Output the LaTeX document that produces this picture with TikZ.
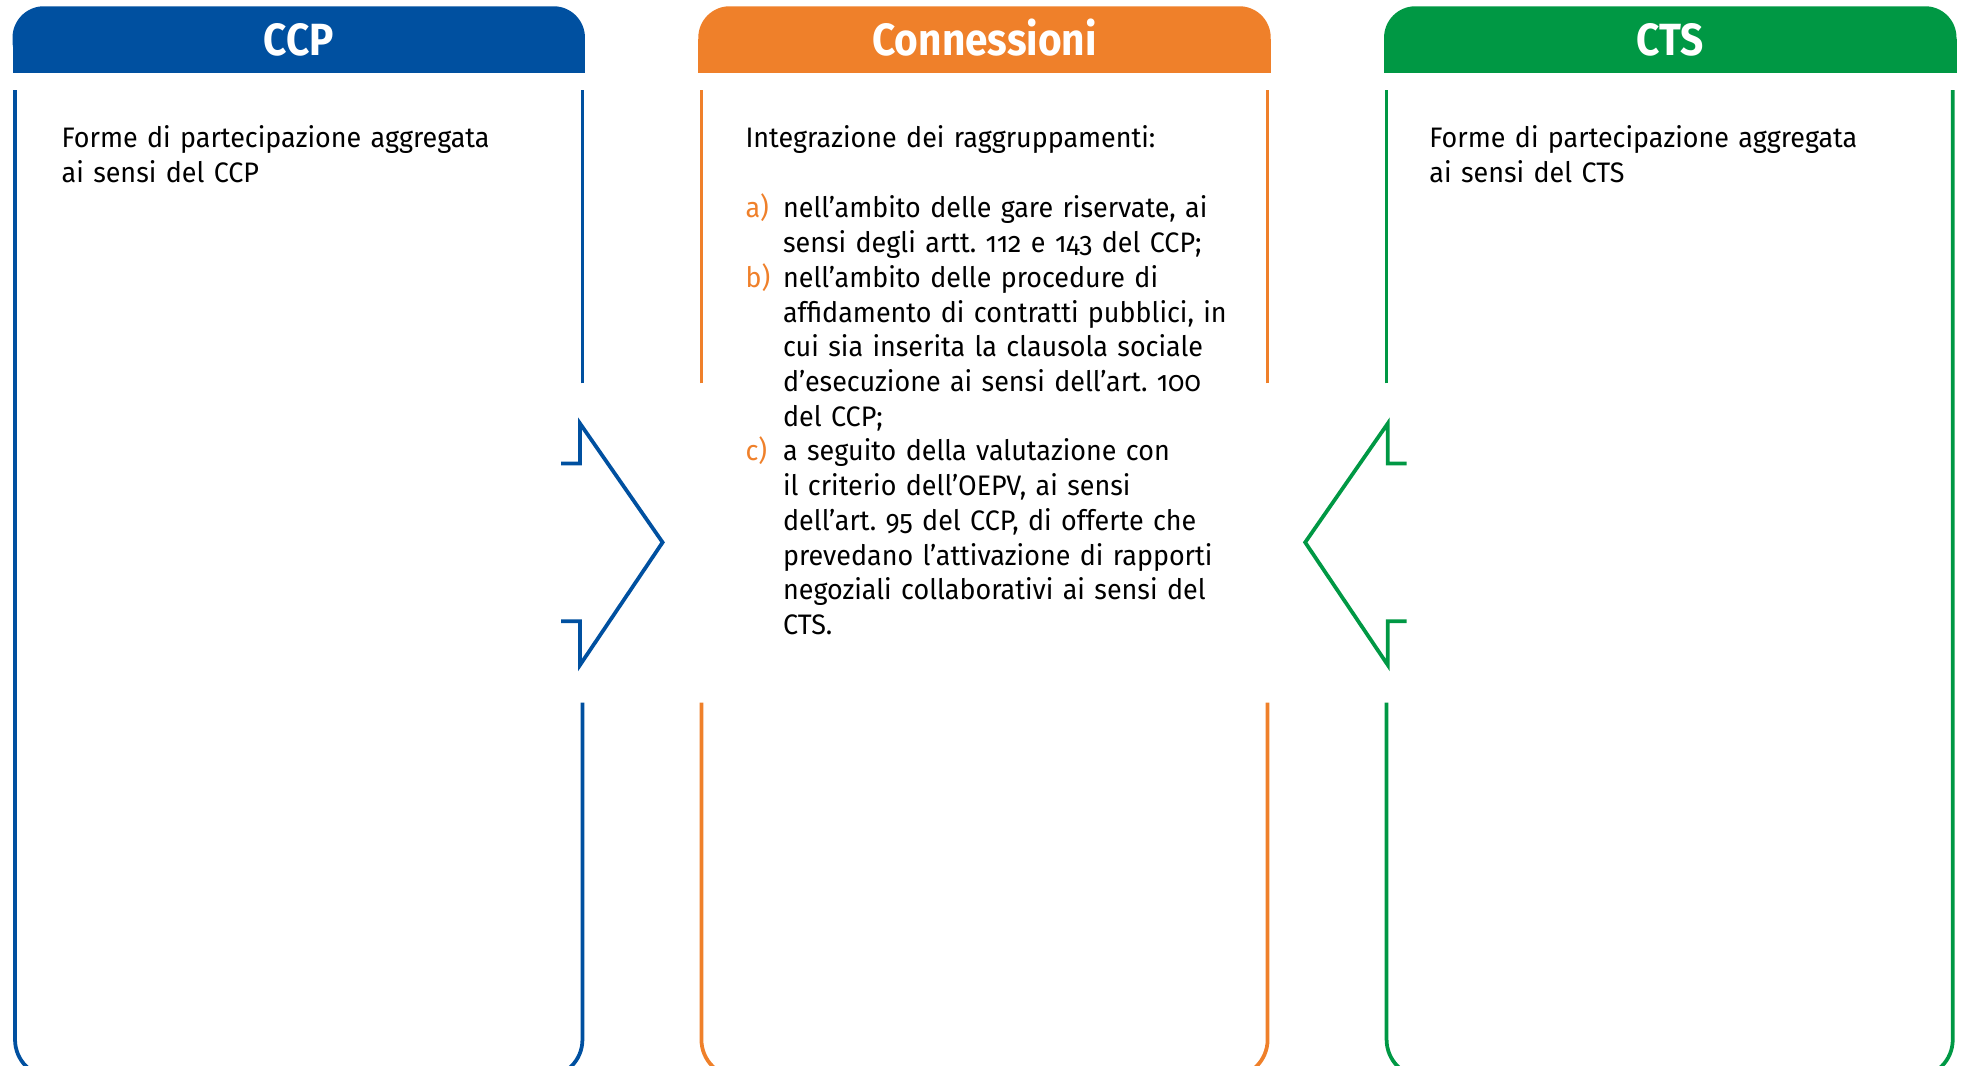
\documentclass[tikz,border=0pt]{standalone}
\usepackage{fontspec}
\setmainfont{Fira Sans}[Numbers=OldStyle, FakeStretch=0.955]
\newfontfamily\titlefont{Fira Sans}[FakeStretch=0.9]

\definecolor{ccpblue}{RGB}{0,80,160}
\definecolor{conorange}{RGB}{239,128,42}
\definecolor{ctsgreen}{RGB}{0,152,68}

\tikzset{
  header/.style={minimum width=457pt, minimum height=53pt, inner sep=0pt,
    rounded corners=25pt, text=white, text height=25pt, text depth=0pt,
    font=\titlefont\bfseries\fontsize{36}{40}\selectfont},
  bodytext/.style={anchor=base west, inner sep=0pt, align=left,
    font=\frenchspacing\fontsize{22.5}{27.7}\selectfont},
  itemlabel/.style={anchor=base west, inner sep=0pt, text=conorange,
    font=\fontsize{22.5}{27.7}\selectfont},
  frame/.style={line width=3pt, rounded corners=30pt},
  chevron/.style={line width=3pt, miter limit=10}
}

\begin{document}
\begin{tikzpicture}[x=1pt,y=1pt]
    \useasboundingbox (0,0) rectangle (1568,-851);
    \clip (0,0) rectangle (1568,-851);
    % column headers
    \foreach \name/\col/\x/\title in {ccp/ccpblue/238.5/CCP, con/conorange/786/Connessioni, cts/ctsgreen/1333.5/CTS} {
      \fill[\col] (\x-228.5,-58) rectangle (\x+228.5,-31.5);
      \node[header, fill=\col] (\name) at (\x,-31.5) {\title};
    }
    % frames
    \draw[frame, ccpblue] (465,-306) -- (465,-72);
    \draw[frame, ccpblue] (465,-561) -- (465,-860) -- (12,-860) -- (12,-72);
    \draw[frame, conorange] (560,-306) -- (560,-72);
    \draw[frame, conorange] (1012,-306) -- (1012,-72);
    \draw[frame, conorange] (560,-561) -- (560,-860) -- (1012,-860) -- (1012,-561);
    \draw[frame, ctsgreen] (1107,-306) -- (1107,-72);
    \draw[frame, ctsgreen] (1107,-561) -- (1107,-860) -- (1559,-860) -- (1559,-72);
    % arrows
    \draw[chevron, ccpblue] (448,-370) -- (463,-370) -- (463,-338) -- (529,-433)
      -- (463,-531) -- (463,-496) -- (448,-496);
    \draw[chevron, ctsgreen] (1123,-370) -- (1108,-370) -- (1108,-338) -- (1042,-433)
      -- (1108,-531) -- (1108,-496) -- (1123,-496);
    % texts
    \node[bodytext, text width=380pt] (ccptext) at (49,-118) {Forme di partecipazione aggregata\\ai sensi del CCP};
    \node[bodytext, text width=380pt] (ctstext) at (1141,-118) {Forme di partecipazione aggregata\\ai sensi del CTS};
    \node[bodytext, text width=380pt] (intro) at (595,-118) {Integrazione dei raggruppamenti:};
    \node[itemlabel] (la) at (595,-174) {a)};
    \node[bodytext, text width=370pt] (ia) at (625,-174) {nell’ambito delle gare riservate, ai\\sensi degli artt. 112 e 143 del CCP;};
    \node[itemlabel] (lb) at (595,-229.4) {b)};
    \node[bodytext, text width=370pt] (ib) at (625,-229.4) {nell’ambito delle procedure di\\affidamento di contratti pubblici, in\\cui sia inserita la clausola sociale\\d’esecuzione ai sensi dell’art. 100\\del CCP;};
    \node[itemlabel] (lc) at (595,-368) {c)};
    \node[bodytext, text width=370pt] (ic) at (625,-368) {a seguito della valutazione con\\il criterio dell’OEPV, ai sensi\\dell’art. 95 del CCP, di offerte che\\prevedano l’attivazione di rapporti\\negoziali collaborativi ai sensi del\\CTS.};
\end{tikzpicture}
\end{document}
